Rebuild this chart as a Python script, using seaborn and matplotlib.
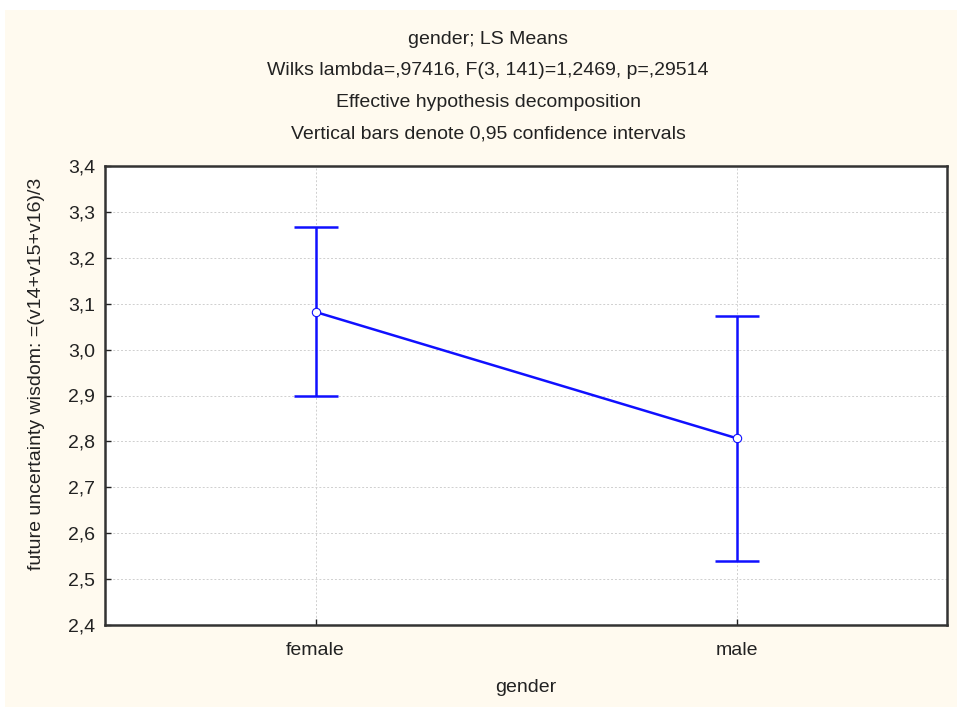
import matplotlib
matplotlib.use("Agg")
import matplotlib.pyplot as plt
import seaborn as sns
from matplotlib.patches import Rectangle

# LS means and 0.95 confidence limits
gender = ["female", "male"]
ls_mean = [3.082, 2.807]
ci_low = [2.899, 2.539]
ci_high = [3.268, 3.074]

title_lines = ["gender; LS Means",
               "Wilks lambda=,97416, F(3, 141)=1,2469, p=,29514",
               "Effective hypothesis decomposition",
               "Vertical bars denote 0,95 confidence intervals"]
yticks = [2.4, 2.5, 2.6, 2.7, 2.8, 2.9, 3.0, 3.1, 3.2, 3.3, 3.4]

sns.set_theme(style="ticks")
plt.rcParams["font.family"] = ["Liberation Sans", "DejaVu Sans"]

cream = "#fffaef"
blue = "#1010ff"
ink = "#222222"
fs = 14

fig = plt.figure(figsize=(9.57, 7.07), dpi=100, facecolor="white")
fig.patches.append(Rectangle((5 / 957, 0), 1, 1 - 10 / 707, transform=fig.transFigure,
                             facecolor=cream, edgecolor="none", zorder=-10))
ax = fig.add_axes([105 / 957, 1 - 625 / 707, 842 / 957, 459 / 707])
ax.set_facecolor("white")

# confidence bars
yerr = [[m - lo for m, lo in zip(ls_mean, ci_low)],
        [hi - m for m, hi in zip(ls_mean, ci_high)]]
ax.errorbar([0, 1], ls_mean, yerr=yerr, fmt="none", ecolor=blue,
            elinewidth=1.8, capsize=16, capthick=1.8, zorder=2)

sns.pointplot(x=gender, y=ls_mean, errorbar=None, color=blue, ax=ax,
              markers="o", markersize=6, markerfacecolor="white",
              markeredgecolor=blue, markeredgewidth=0.8,
              linewidth=1.8, zorder=3)

ax.set_xlim(-0.5, 1.5)
ax.set_ylim(2.4, 3.4)
ax.set_yticks(yticks)
ax.set_yticklabels([f"{t:.1f}".replace(".", ",") for t in yticks])
ax.grid(True, color="#cfcfcf", linestyle=(0, (2, 2)), linewidth=0.7)
ax.tick_params(direction="in", length=4, width=1, colors=ink,
               labelsize=fs, labelcolor=ink)
ax.tick_params(axis="y", pad=7)
ax.tick_params(axis="x", pad=12)
for s in ax.spines.values():
    s.set_visible(True)
    s.set_color("#333333")
    s.set_linewidth(1.8)

ax.set_xlabel("gender", fontsize=fs, color=ink, labelpad=15)
ax.set_ylabel("future uncertainty wisdom: =(v14+v15+v16)/3", fontsize=fs,
              color=ink)
ax.yaxis.set_label_coords(-0.0713, 0.547)

for i, line in enumerate(title_lines):
    fig.text(488 / 957, 1 - (39 + 31.7 * i) / 707, line, ha="center", va="center",
             fontsize=fs, color=ink)

fig.savefig("out.png", dpi=100, facecolor=fig.get_facecolor())
